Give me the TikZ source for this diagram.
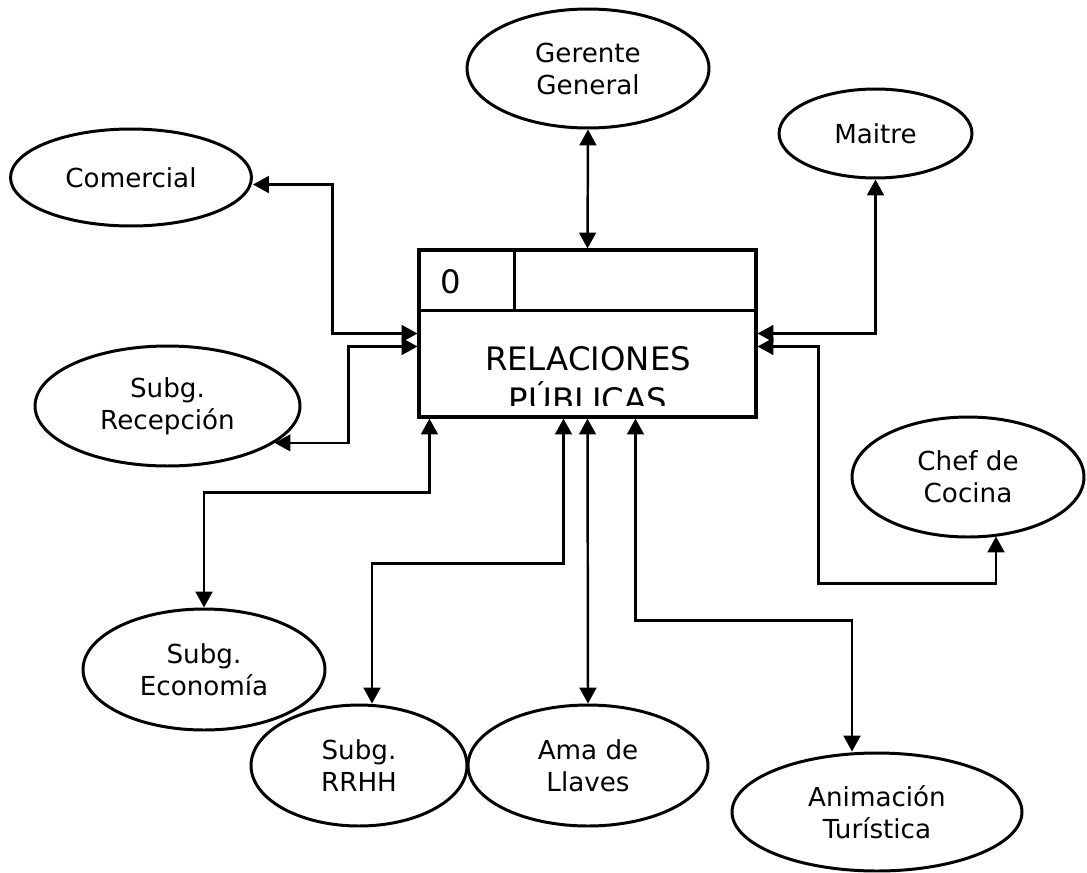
\documentclass[tikz,border=0pt]{standalone}
\usepackage{amsmath}
\usepackage{fontspec}
\setmainfont{DejaVu Sans}
\usepackage{tikz}
\usetikzlibrary{shapes.geometric,arrows.meta}

\begin{document}
\begin{tikzpicture}[x=0.02cm,y=-0.02cm,
ent/.style={draw,ellipse,line width=1.7pt,inner sep=0pt,align=center,font=\fontsize{14.9}{18.2}\selectfont},
dataflow/.style={{Triangle[length=9pt,width=9.5pt]}-{Triangle[length=9pt,width=9.5pt]},line width=1.4pt}]

\useasboundingbox (0,0) rectangle (1087,872);

\node [draw,line width=1.8pt,minimum width=6.74cm,minimum height=3.34cm,inner sep=0pt] (proc) at (587.5,333.5) {};
\draw [line width=1.8pt] ([yshift=-1.24cm]proc.north west)--([yshift=-1.24cm]proc.north east);
\draw [line width=1.8pt] ([xshift=1.94cm]proc.north west)--([xshift=1.94cm,yshift=-1.24cm]proc.north west);
\node [font=\fontsize{18.4}{23.3}\selectfont] (num) at (451,282) {0};
\begin{scope}
\clip (419,312) rectangle (756,405);
\node [anchor=north,inner sep=0pt,align=center,font=\fontsize{18.4}{23.3}\selectfont] (pname) at (588,346) {RELACIONES\\PÚBLICAS};
\end{scope}

\node [ent,minimum width=4.84cm,minimum height=2.38cm] (gerente) at (588,68.5) {Gerente\\General};
\node [ent,minimum width=3.86cm,minimum height=1.78cm] (maitre) at (875.5,133.5) {Maitre};
\node [ent,minimum width=4.82cm,minimum height=1.94cm] (comercial) at (131,177.5) {Comercial};
\node [ent,minimum width=5.3cm,minimum height=2.4cm] (recepcion) at (167.5,406) {Subg.\\Recepción};
\node [ent,minimum width=4.64cm,minimum height=2.4cm] (chef) at (968,477) {Chef de\\Cocina};
\node [ent,minimum width=4.84cm,minimum height=2.42cm] (economia) at (204,669.5) {Subg.\\Economía};
\node [ent,minimum width=4.32cm,minimum height=2.42cm] (rrhh) at (359,765.5) {Subg.\\RRHH};
\node [ent,minimum width=4.8cm,minimum height=2.42cm] (ama) at (588,765.5) {Ama de\\Llaves};
\node [ent,minimum width=5.8cm,minimum height=2.36cm] (animacion) at (877,812) {Animación\\Turística};

%top and right
\draw [dataflow] (gerente.south)--(proc.north);
\draw [dataflow] (proc.east)-|(maitre.south);
\draw [dataflow] ([yshift=-0.26cm]proc.east)--++(61,0)|-([xshift=0.56cm,yshift=-0.9cm]chef.south)--([xshift=0.56cm,yshift=0.04cm]chef.south);

%left
\draw [dataflow] (proc.west)--++(-85,0)|-([yshift=-0.14cm]comercial.east);
\draw [dataflow] ([yshift=-0.26cm]proc.west)--++(-69,0)|-(recepcion.-19);

%bottom
\draw [dataflow] ([xshift=0.24cm]proc.south west)--++(0,74)-|(economia.north);
\draw [dataflow] ([xshift=-0.48cm]proc.south)--++(0,145)-|([xshift=0.26cm]rrhh.north);
\draw [dataflow] (proc.south)--(ama.north);
\draw [dataflow] ([xshift=0.96cm]proc.south)--++(0,202)-|([xshift=-0.5cm]animacion.north);

\end{tikzpicture}
\end{document}
